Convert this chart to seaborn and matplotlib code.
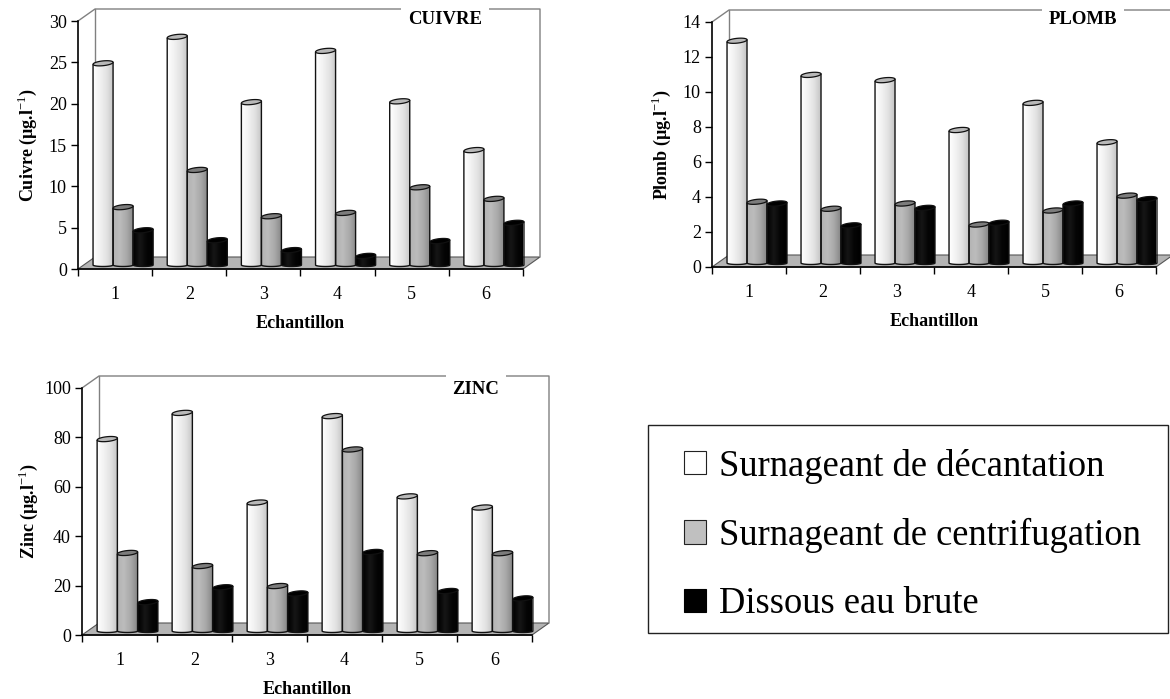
import numpy as np
import pandas as pd
import seaborn as sns
import matplotlib.pyplot as plt
from matplotlib.patches import PathPatch, Polygon, Patch, Rectangle
from matplotlib.path import Path
from matplotlib.transforms import Affine2D
from matplotlib.colors import LinearSegmentedColormap

sns.set_style("white")
plt.rcParams['font.family'] = ['Liberation Serif', 'DejaVu Serif']
plt.rcParams['text.color'] = 'black'
plt.rcParams['axes.labelcolor'] = 'black'
plt.rcParams['xtick.color'] = 'black'
plt.rcParams['ytick.color'] = 'black'
plt.rcParams['mathtext.fontset'] = 'custom'
plt.rcParams['mathtext.bf'] = 'Liberation Serif:bold'
plt.rcParams['mathtext.rm'] = 'Liberation Serif'

# values
echantillons = ['1', '2', '3', '4', '5', '6']
series = ['Surnageant de décantation', 'Surnageant de centrifugation', 'Dissous eau brute']

cuivre_dec = [24.4, 27.6, 19.7, 25.9, 19.8, 13.9]
cuivre_cen = [7.0, 11.5, 5.9, 6.3, 9.4, 8.0]
cuivre_dis = [4.2, 3.0, 1.8, 1.1, 2.9, 5.1]

plomb_dec = [12.7, 10.75, 10.45, 7.6, 9.15, 6.9]
plomb_cen = [3.5, 3.1, 3.4, 2.2, 3.0, 3.85]
plomb_dis = [3.4, 2.15, 3.15, 2.3, 3.4, 3.65]

zinc_dec = [77.7, 88.3, 52, 87, 54.5, 50]
zinc_cen = [31.6, 26.3, 18.2, 73.5, 31.5, 31.5]
zinc_dis = [11.7, 17.7, 15.2, 32, 16.2, 13.2]

W, H = 1170, 699
fig = plt.figure(figsize=(W / 100, H / 100), dpi=100)

# back wall offset in pixels
DX, DY = 17, 12
# gradient colours left to right, top ellipse colour
shades = [
    (['#ffffff', '#f2f2f2', '#e2e2e2', '#c4c4c4'], '#b8b8b8'),
    (['#b4b4b4', '#bcbcbc', '#a8a8a8', '#868686'], '#7c7c7c'),
    (['#000000', '#161616', '#050505', '#000000'], '#000000'),
]


def draw_panel(x0, x1, y0, y1, ymax, step, values, ylabel, ypad, title, title_x, title_y):
    ax = fig.add_axes([x0 / W, 1 - y0 / H, (x1 - x0) / W, (y0 - y1) / H])
    df = pd.DataFrame({
        'Echantillon': echantillons * 3,
        'serie': np.repeat(series, 6),
        'valeur': np.concatenate(values),
    })
    sns.barplot(data=df, x='Echantillon', y='valeur', hue='serie', hue_order=series,
                palette=['#ffffff', '#b8b8b8', '#000000'], width=0.81, gap=0,
                legend=False, errorbar=None, ax=ax, zorder=3)
    ax.set_xlim(-0.5, 5.5)
    ax.set_ylim(0, ymax)
    px_y = ymax / (y0 - y1)

    # bars stand a little behind the front axis
    off = ax.transData + Affine2D().translate(8, 4)
    t = np.linspace(0, 2 * np.pi, 48)
    tb = np.linspace(np.pi, 2 * np.pi, 24)
    for cont, (cols, top) in zip(ax.containers, shades):
        cmap = LinearSegmentedColormap.from_list('c', cols)
        for bar in cont:
            bx, bw, bh = bar.get_x(), bar.get_width(), bar.get_height()
            bar.set_visible(False)
            cx = bx + bw / 2
            # cylinder outline, the top is slightly tilted like the 3D view
            tilt = 1.0 * px_y
            verts = np.vstack([[bx, bh - tilt],
                               np.column_stack([cx + bw / 2 * np.cos(tb), 1.5 * px_y * np.sin(tb)]),
                               [bx + bw, bh + tilt], [bx, bh - tilt]])
            body = PathPatch(Path(verts), fc='none', ec='#111111', lw=1.0,
                             transform=off, zorder=5, clip_on=False)
            ax.add_patch(body)
            im = ax.imshow(np.linspace(0, 1, 64).reshape(1, -1), cmap=cmap, aspect='auto',
                           extent=(bx, bx + bw, -2 * px_y, bh + 2 * tilt), zorder=4, transform=off)
            im.set_clip_path(body)
            cap = np.column_stack([cx + bw / 2 * np.cos(t),
                                   bh + px_y * (2.4 * np.sin(t) + 1.0 * np.cos(t))])
            ax.add_patch(Polygon(cap, closed=True, fc=top, ec='#111111', lw=0.9,
                                 transform=off, zorder=6, clip_on=False))
    ax.set_xlim(-0.5, 5.5)
    ax.set_ylim(0, ymax)
    ax.set_aspect('auto')

    # back wall and floor
    fx, fy = DX / (x1 - x0), DY / (y0 - y1)
    ax.add_patch(Polygon([(0, 0), (1, 0), (1 + fx, fy), (fx, fy)], closed=True, fc='#b4b4b4',
                         ec='#555555', lw=0.8, transform=ax.transAxes, clip_on=False, zorder=1))
    ax.plot([0, fx, 1 + fx, 1 + fx], [1, 1 + fy, 1 + fy, fy], color='#808080', lw=1.0,
            transform=ax.transAxes, clip_on=False, zorder=1)
    ax.plot([fx, fx], [fy, 1 + fy], color='#808080', lw=1.0,
            transform=ax.transAxes, clip_on=False, zorder=1)

    sns.despine(ax=ax)
    for side in ['left', 'bottom']:
        ax.spines[side].set_color('black')
        ax.spines[side].set_linewidth(1.2)
    ax.set_yticks(np.arange(0, ymax + 1, step))
    ax.set_xticks(np.arange(6))
    ax.set_xticks(np.arange(7) - 0.5, minor=True)
    ax.tick_params(axis='x', which='major', length=0, pad=12, labelsize=13)
    ax.tick_params(axis='x', which='minor', length=5, width=1, bottom=True, color='black')
    ax.tick_params(axis='y', length=5, width=1, left=True, pad=3, labelsize=13, color='black')
    ax.set_xlabel('Echantillon', fontweight='bold', fontsize=13, labelpad=9)
    ax.set_ylabel(ylabel, fontweight='bold', fontsize=13, labelpad=ypad)
    ax.patch.set_alpha(0)

    ax.text((title_x - x0) / (x1 - x0), (y0 - title_y) / (y0 - y1), title, fontweight='bold',
            fontsize=13.5, ha='center', va='center', transform=ax.transAxes, clip_on=False,
            bbox=dict(fc='white', ec='none', pad=5), zorder=2)
    return ax


draw_panel(78, 523, 269, 21, 30, 5, [cuivre_dec, cuivre_cen, cuivre_dis],
           r'Cuivre (µg.l$^{\mathrm{-1}}$)', 7, 'CUIVRE', 445, 20)
draw_panel(712, 1156, 267, 22, 14, 2, [plomb_dec, plomb_cen, plomb_dis],
           r'Plomb (µg.l$^{\mathrm{-1}}$)', 7, 'PLOMB', 1083, 20)
draw_panel(82, 532, 635, 388, 100, 20, [zinc_dec, zinc_cen, zinc_dis],
           r'Zinc (µg.l$^{\mathrm{-1}}$)', 3, 'ZINC', 476, 390)

# legend box, drawn apart so its padding can differ in x and y
fig.add_artist(Rectangle((648 / W, 1 - 633 / H), 520 / W, 208 / H, transform=fig.transFigure,
                         fc='white', ec='#222222', lw=1.0))
handles = [Patch(fc='white', ec='#222222', lw=0.8),
           Patch(fc='#c0c0c0', ec='#222222', lw=0.8),
           Patch(fc='black', ec='black', lw=0.8)]
fig.legend(handles, series, loc='center left', bbox_to_anchor=(684 / W, 1 - 535 / H),
           fontsize=26.3, frameon=False, handlelength=0.6, handleheight=0.6,
           handletextpad=0.36, labelspacing=0.93, borderpad=0, borderaxespad=0)

plt.savefig('out.png', dpi=100)
